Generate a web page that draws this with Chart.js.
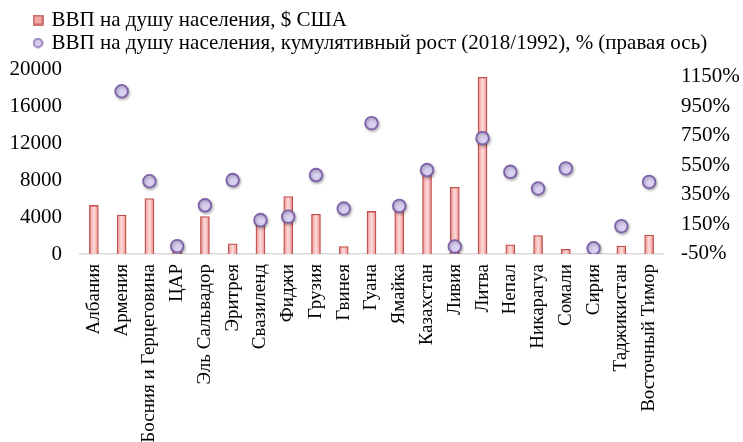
<!DOCTYPE html>
<html>
<head>
<meta charset="utf-8">
<script src="https://cdn.jsdelivr.net/npm/chart.js@4.4.1/dist/chart.umd.min.js"></script>
<style>
  html, body { margin: 0; padding: 0; background: #fff; }
</style>
</head>
<body>
<canvas id="chart" width="743" height="442"></canvas>
<script>
const countries = [
  "Албания", "Армения", "Босния и Герцеговина", "ЦАР", "Эль Сальвадор",
  "Эритрея", "Свазиленд", "Фиджи", "Грузия", "Гвинея", "Гуана", "Ямайка",
  "Казахстан", "Ливия", "Литва", "Непал", "Никарагуа", "Сомали", "Сирия",
  "Таджикистан", "Восточный Тимор"
];
// ВВП на душу населения, $ США
const gdpPerCapita = [
  5250, 4200, 6000, 500, 4050,
  1100, 3600, 6200, 4300, 800, 4600, 4950,
  9000, 7200, 19100, 1000, 2000, 500, 700,
  850, 2050
];
// кумулятивный рост 2018/1992, %
const cumulativeGrowth = [
  null, 1050, 440, 0, 277,
  448, 177, 200, 482, 255, 834, 273,
  516, -2, 732, 504, 391, 527, -14,
  136, 436
];
const leftTicks = [0, 4000, 8000, 12000, 16000, 20000];
const rightTicks = [-50, 150, 350, 550, 750, 950, 1150];

const serif = "'Liberation Serif', 'Times New Roman', serif";

// little legend markers
function marker(shape, fill, stroke) {
  const c = document.createElement("canvas");
  c.width = 11;
  c.height = 11;
  const g = c.getContext("2d");
  g.fillStyle = fill;
  g.strokeStyle = stroke;
  g.lineWidth = 1.5;
  g.beginPath();
  if (shape === "rect") g.rect(1, 1, 9, 9);
  else g.arc(5.5, 5.5, 4.3, 0, Math.PI * 2);
  g.fill();
  g.stroke();
  return c;
}
const barMarker = marker("rect", "#f2a9a7", "#c0504d");
const dotMarker = marker("circle", "#d8cdf0", "#7d61aa");

function barFill(ctx) {
  const xs = ctx.chart.scales.x;
  if (ctx.type !== "data" || !xs) return "#f4b3b2";
  const cx = xs.getPixelForValue(ctx.dataIndex);
  if (!isFinite(cx)) return "#f4b3b2";
  const g = ctx.chart.ctx.createLinearGradient(cx - 5, 0, cx + 5, 0);
  g.addColorStop(0, "#ea8886");
  g.addColorStop(0.5, "#fcdcdb");
  g.addColorStop(1, "#ea8886");
  return g;
}

// push the legend right, the axes keep their own width
const legendShift = {
  id: "legendShift",
  afterLayout(chart) {
    if (chart.legend) chart.legend.left = 33;
  },
};

// soft shadow under the circles
const dotShadow = {
  id: "dotShadow",
  beforeDatasetDraw(chart, args) {
    if (args.index !== 1) return;
    const c = chart.ctx;
    c.save();
    c.shadowColor = "rgba(0,0,0,0.3)";
    c.shadowBlur = 3;
    c.shadowOffsetX = 1;
    c.shadowOffsetY = 1.5;
  },
  afterDatasetDraw(chart, args) {
    if (args.index === 1) chart.ctx.restore();
  },
};

new Chart(document.getElementById("chart"), {
  type: "bar",
  data: {
    labels: countries,
    datasets: [
      {
        label: "ВВП на душу населения, $ США",
        data: gdpPerCapita,
        yAxisID: "y",
        backgroundColor: barFill,
        borderColor: "#c0504d",
        borderWidth: 1.3,
        barThickness: 9,
        order: 1,
      },
      {
        type: "line",
        label: "ВВП на душу населения, кумулятивный рост (2018/1992), % (правая ось)",
        data: cumulativeGrowth,
        yAxisID: "y1",
        showLine: false,
        pointRadius: 6.3,
        pointBorderWidth: 1.8,
        pointBackgroundColor: "#dad0f2",
        pointBorderColor: "#7d61aa",
        order: 0,
      },
    ],
  },
  plugins: [legendShift, dotShadow],
  options: {
    responsive: false,
    animation: false,
    devicePixelRatio: 1,
    layout: { padding: { left: 0, top: 7.5, right: 0, bottom: 0 } },
    plugins: {
      tooltip: { enabled: false },
      legend: {
        position: "top",
        align: "start",
        labels: {
          font: { family: serif, size: 21 },
          color: "#000",
          padding: 2,
          boxWidth: 6,
          boxHeight: 10,
          usePointStyle: true,
          sort: (a, b) => a.datasetIndex - b.datasetIndex,
          generateLabels: (chart) =>
            Chart.defaults.plugins.legend.labels.generateLabels(chart).map((item) => {
              item.pointStyle = item.datasetIndex === 0 ? barMarker : dotMarker;
              return item;
            }),
        },
      },
    },
    scales: {
      x: {
        grid: { display: false, drawTicks: false },
        border: { display: true, color: "#d9d9d9", width: 1.5 },
        ticks: {
          font: { family: serif, size: 19 },
          color: "#000",
          autoSkip: false,
          maxRotation: 90,
          minRotation: 90,
          padding: 10,
        },
        afterFit: (s) => { s.height = 188; },
      },
      y: {
        position: "left",
        min: 0,
        max: 20595,
        grid: { display: false, drawTicks: false },
        border: { display: false },
        afterBuildTicks: (s) => { s.ticks = leftTicks.map((v) => ({ value: v })); },
        ticks: {
          font: { family: serif, size: 21 },
          color: "#000",
          padding: 18,
          callback: (v) => String(v),
        },
        afterFit: (s) => { s.width = 80; },
      },
      y1: {
        position: "right",
        min: -53,
        max: 1238,
        grid: { display: false, drawTicks: false },
        border: { display: false },
        afterBuildTicks: (s) => { s.ticks = rightTicks.map((v) => ({ value: v })); },
        ticks: {
          font: { family: serif, size: 21 },
          color: "#000",
          padding: 18,
          callback: (v) => v + "%",
        },
        afterFit: (s) => { s.width = 80; },
      },
    },
  },
});
</script>
</body>
</html>
